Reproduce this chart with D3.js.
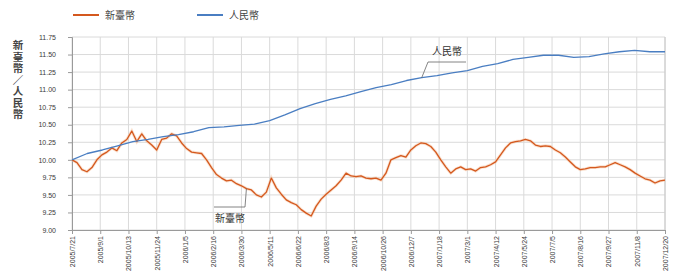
<!DOCTYPE html>
<html>
<head>
<meta charset="utf-8">
<script src="https://cdn.jsdelivr.net/npm/d3@7"></script>
<style>
	body { margin: 0; background: #fff; }
	svg { display: block; font-family: "Noto Sans CJK TC", "Noto Sans", sans-serif; }
</style>
</head>
<body>
<svg id="chart"></svg>
<script>
	///////////////////////////////////////////////////////////////////
	//// Data /////////////////////////////////////////////////////////
	///////////////////////////////////////////////////////////////////
	const seriesNames = ["新臺幣", "人民幣"];

	const dateLabels = [
		"2005/7/21", "2005/9/1", "2005/10/13", "2005/11/24", "2006/1/5",
		"2006/2/16", "2006/3/30", "2006/5/11", "2006/6/22", "2006/8/3",
		"2006/9/14", "2006/10/26", "2006/12/7", "2007/1/18", "2007/3/1",
		"2007/4/12", "2007/5/24", "2007/7/5", "2007/8/16", "2007/9/27",
		"2007/11/8", "2007/12/20"
	];

	const yTicks = [9.00, 9.25, 9.50, 9.75, 10.00, 10.25, 10.50, 10.75, 11.00, 11.25, 11.50, 11.75];

	// 新臺幣 (orange)
	const twd = [
		10.00, 9.96, 9.86, 9.83, 9.89, 10.00, 10.07, 10.11, 10.17, 10.13,
		10.24, 10.29, 10.41, 10.26, 10.37, 10.27, 10.21, 10.14, 10.29, 10.31,
		10.37, 10.34, 10.24, 10.16, 10.11, 10.10, 10.09, 10.00, 9.89, 9.79,
		9.74, 9.70, 9.71, 9.66, 9.63, 9.59, 9.57, 9.50, 9.47, 9.54,
		9.74, 9.60, 9.51, 9.43, 9.39, 9.36, 9.29, 9.24, 9.20, 9.34,
		9.44, 9.51, 9.57, 9.63, 9.71, 9.81, 9.77, 9.76, 9.77, 9.74,
		9.73, 9.74, 9.71, 9.81, 10.00, 10.03, 10.06, 10.04, 10.14, 10.20,
		10.24, 10.23, 10.19, 10.11, 10.00, 9.90, 9.81, 9.87, 9.90, 9.86,
		9.87, 9.84, 9.89, 9.90, 9.93, 9.97, 10.07, 10.17, 10.24, 10.26,
		10.27, 10.29, 10.27, 10.21, 10.19, 10.20, 10.19, 10.14, 10.10, 10.04,
		9.97, 9.90, 9.86, 9.87, 9.89, 9.89, 9.90, 9.90, 9.93, 9.96,
		9.93, 9.90, 9.86, 9.81, 9.77, 9.73, 9.71, 9.67, 9.70, 9.71
	];

	// 人民幣 (blue)
	const cny = [
		10.00, 10.09, 10.14, 10.20, 10.26, 10.29, 10.33, 10.36, 10.40, 10.46,
		10.47, 10.49, 10.51, 10.56, 10.64, 10.73, 10.80, 10.86, 10.91, 10.97,
		11.03, 11.07, 11.13, 11.17, 11.20, 11.24, 11.27, 11.33, 11.37, 11.43,
		11.46, 11.49, 11.49, 11.46, 11.47, 11.51, 11.54, 11.56, 11.54, 11.54
	];

	///////////////////////////////////////////////////////////////////
	//// Set Up ///////////////////////////////////////////////////////
	///////////////////////////////////////////////////////////////////
	const width = 681;
	const height = 279;
	const plot = {left: 72, right: 665, top: 37, bottom: 230};

	const color = d3.scaleOrdinal()
			.domain(seriesNames)
			.range(["#d4581e", "#4a7ec2"]);

	const y = d3.scaleLinear()
			.domain([9, 11.75])
			.range([plot.bottom, plot.top]);

	const xLabel = d3.scalePoint()
			.domain(dateLabels)
			.range([plot.left, plot.right]);

	const xTwd = d3.scaleLinear()
			.domain([0, twd.length - 1])
			.range([plot.left, plot.right]);

	const xCny = d3.scaleLinear()
			.domain([0, cny.length - 1])
			.range([plot.left, plot.right]);

	const svg = d3.select("#chart")
			.attr("width", width)
			.attr("height", height);

	///////////////////////////////////////////////////////////////////
	//// Grid /////////////////////////////////////////////////////////
	///////////////////////////////////////////////////////////////////
	const grid = svg.append("g").attr("class", "grid");

	grid.selectAll(".hgrid")
		.data(yTicks)
		.enter().append("line")
			.attr("x1", plot.left)
			.attr("x2", plot.right)
			.attr("y1", d => y(d))
			.attr("y2", d => y(d))
			.style("stroke", "#dadada")
			.style("stroke-width", 1);

	grid.selectAll(".vgrid")
		.data(dateLabels)
		.enter().append("line")
			.attr("x1", d => xLabel(d))
			.attr("x2", d => xLabel(d))
			.attr("y1", plot.top)
			.attr("y2", plot.bottom)
			.style("stroke", "#dadada")
			.style("stroke-width", 1);

	// right border
	grid.append("line")
			.attr("x1", plot.right).attr("x2", plot.right)
			.attr("y1", plot.top).attr("y2", plot.bottom)
			.style("stroke", "#c8c8c8");

	///////////////////////////////////////////////////////////////////
	//// Axes /////////////////////////////////////////////////////////
	///////////////////////////////////////////////////////////////////
	const yAxisG = svg.append("g")
			.attr("transform", `translate(${plot.left}, 0)`)
			.call(d3.axisLeft(y)
				.tickValues(yTicks)
				.tickSize(4)
				.tickPadding(12)
				.tickFormat(d3.format(".2f")));

	const xAxisG = svg.append("g")
			.attr("transform", `translate(0, ${plot.bottom})`)
			.call(d3.axisBottom(xLabel)
				.tickSize(4)
				.tickSizeOuter(0));

	[yAxisG, xAxisG].forEach(g => {
		g.select(".domain").style("stroke", "#9a9a9a");
		g.selectAll(".tick line").style("stroke", "#9a9a9a");
		g.selectAll("text")
			.style("fill", "#3a3a3a")
			.style("font-size", "7px")
			.style("font-family", "'Liberation Sans', Arial, sans-serif");
	});

	xAxisG.selectAll("text")
			.attr("transform", "rotate(-90)")
			.attr("text-anchor", "end")
			.attr("x", -6)
			.attr("y", 0)
			.attr("dy", "0.35em");

	// Y axis title, written vertically as one text
	svg.append("text")
			.attr("x", 18)
			.attr("y", 40)
			.style("writing-mode", "vertical-rl")
			.style("text-orientation", "upright")
			.style("font-size", "10.5px")
			.style("letter-spacing", "1px")
			.style("font-weight", "bold")
			.style("fill", "#444")
			.text("新臺幣／人民幣");

	///////////////////////////////////////////////////////////////////
	//// Lines ////////////////////////////////////////////////////////
	///////////////////////////////////////////////////////////////////
	const lineTwd = d3.line()
			.x((d, i) => xTwd(i))
			.y(d => y(d));

	const lineCny = d3.line()
			.x((d, i) => xCny(i))
			.y(d => y(d));

	svg.append("path")
			.attr("d", lineTwd(twd))
			.style("fill", "none")
			.style("stroke", "#f5c3a0")
			.style("stroke-width", 3)
			.style("opacity", 0.5);

	svg.append("path")
			.attr("d", lineTwd(twd))
			.style("fill", "none")
			.style("stroke", color("新臺幣"))
			.style("stroke-width", 1.3)
			.style("stroke-linejoin", "round");

	svg.append("path")
			.attr("d", lineCny(cny))
			.style("fill", "none")
			.style("stroke", color("人民幣"))
			.style("stroke-width", 1.3)
			.style("stroke-linejoin", "round");

	///////////////////////////////////////////////////////////////////
	//// Legend ///////////////////////////////////////////////////////
	///////////////////////////////////////////////////////////////////
	const legend = svg.append("g")
			.selectAll("g")
			.data(seriesNames)
			.enter().append("g")
				.attr("transform", (d, i) => `translate(${73 + i * 124}, 15)`);

	legend.append("line")
			.attr("x1", 0).attr("x2", 26)
			.style("stroke", d => color(d))
			.style("stroke-width", 2);

	legend.append("text")
			.attr("x", 32)
			.attr("dy", "0.35em")
			.style("font-size", "10px")
			.style("fill", "#444")
			.text(d => d);

	///////////////////////////////////////////////////////////////////
	//// Annotations //////////////////////////////////////////////////
	///////////////////////////////////////////////////////////////////
	const notes = [
		{name: "人民幣", idx: 23, src: cny, sx: xCny, pts: [[428, 62], [466, 62]], tx: 447, ty: 51},
		{name: "新臺幣", idx: 35, src: twd, sx: xTwd, pts: [[245, 207], [214, 207]], tx: 230, ty: 218}
	];

	notes.forEach(n => {
		const p0 = [n.sx(n.idx), y(n.src[n.idx])];
		svg.append("path")
				.attr("d", d3.line()([p0].concat(n.pts)))
				.style("fill", "none")
				.style("stroke", "#666")
				.style("stroke-width", 0.8);
		svg.append("text")
				.attr("x", n.tx)
				.attr("y", n.ty)
				.attr("text-anchor", "middle")
				.attr("dy", "0.35em")
				.style("font-size", "10px")
				.style("fill", "#333")
				.text(n.name);
	});
</script>
</body>
</html>
